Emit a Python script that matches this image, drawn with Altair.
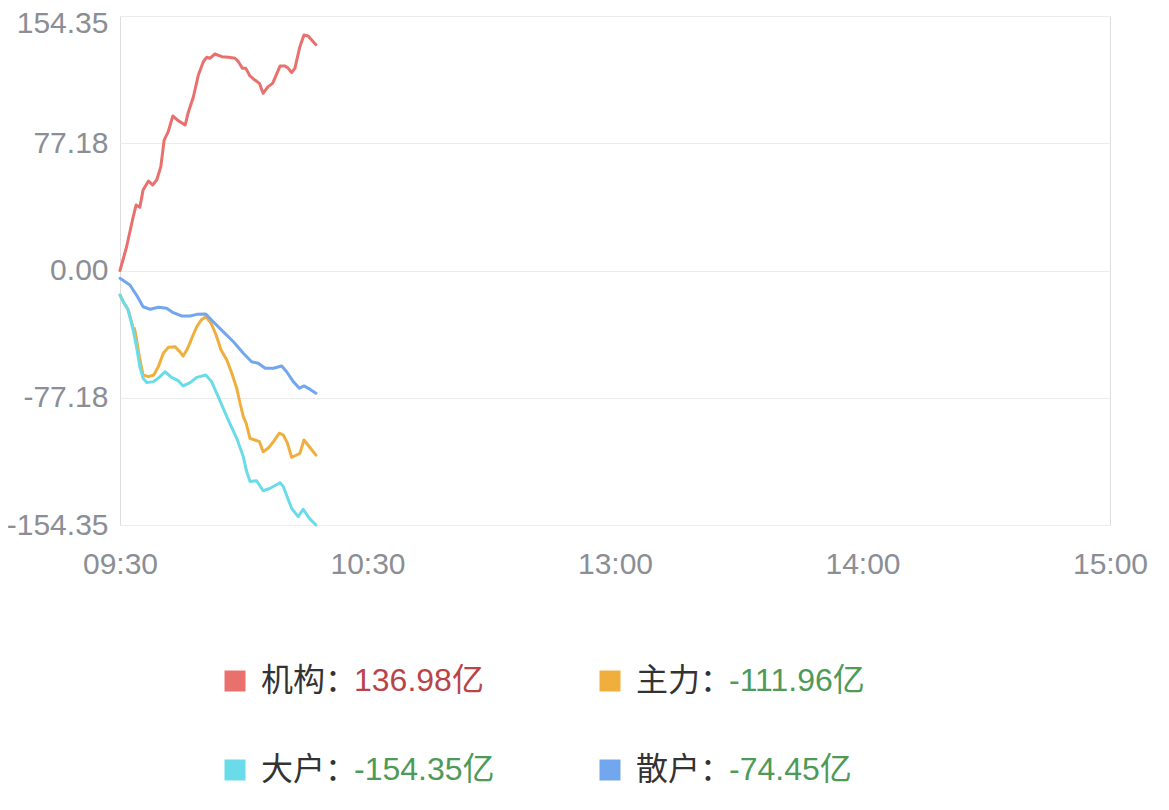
import altair as alt
import pandas as pd

# ---- data ----
names = ["机构", "主力", "大户", "散户"]
finals = [136.98, -111.96, -154.35, -74.45]
palette = ["#E8716D", "#F0AE3C", "#6ADBE8", "#72A6EF"]

tick_vals = [0, 60, 120, 180, 240]
tick_labels = ["09:30", "10:30", "13:00", "14:00", "15:00"]
y_ticks = [-154.35, -77.18, 0, 77.18, 154.35]

red_t = [0, 1.6, 3.2, 3.9, 4.8, 5.6, 6.9, 7.9, 8.9, 9.9, 10.7, 11.7, 12.8, 14.1, 15.8, 16.6, 17.8, 19.0, 20.2, 21.0, 21.8, 23.0, 24.7, 26.3, 27.9, 28.7, 29.7, 30.5, 31.5, 32.7, 33.8, 34.7, 35.9, 37.0, 38.8, 40.0, 40.8, 41.6, 42.4, 43.6, 44.6, 45.6, 47.5]
red_v = [0, 14.4, 32.6, 39.7, 38.3, 48.8, 54.3, 51.9, 54.9, 63.0, 79.1, 84.2, 93.7, 90.9, 88.2, 96.3, 105.4, 118.6, 126.6, 129.3, 128.7, 131.3, 129.7, 129.3, 128.7, 126.6, 122.6, 122.6, 118.0, 115.5, 113.5, 107.5, 111.5, 113.5, 124.0, 124.0, 122.6, 120.0, 122.6, 135.7, 142.8, 142.2, 136.98]

orange_t = [0, 0.8, 2.0, 3.2, 3.5, 3.9, 4.7, 5.6, 6.9, 8.2, 9.3, 10.5, 11.7, 13.3, 14.5, 15.3, 16.3, 17.4, 18.6, 19.7, 20.8, 22.1, 23.3, 24.5, 25.9, 27.1, 28.3, 29.1, 29.9, 30.6, 31.5, 32.7, 33.8, 34.7, 35.9, 37.2, 38.6, 39.6, 40.6, 41.6, 42.8, 43.6, 44.6, 45.9, 47.5]
orange_v = [-14.9, -18.9, -24.0, -35.0, -35.1, -40.1, -52.3, -63.4, -64.4, -63.4, -58.3, -50.2, -46.6, -46.2, -49.2, -51.9, -47.8, -41.1, -34.1, -30.0, -28.0, -32.0, -39.1, -48.2, -54.3, -62.3, -71.4, -80.5, -88.7, -92.7, -101.8, -102.8, -103.8, -109.9, -107.8, -103.8, -98.7, -99.8, -104.8, -113.3, -111.9, -110.9, -102.8, -106.9, -111.96]

cyan_t = [0, 0.8, 2.0, 3.2, 4.0, 4.8, 5.6, 6.5, 8.1, 9.7, 10.9, 12.5, 14.1, 15.3, 17.0, 18.6, 20.8, 22.2, 23.8, 25.9, 28.3, 29.9, 30.6, 31.5, 33.1, 34.7, 36.4, 38.8, 39.6, 41.6, 43.2, 44.4, 45.9, 47.5]
cyan_v = [-14.9, -18.9, -24.0, -36.1, -46.2, -58.3, -65.4, -68.0, -67.4, -64.4, -61.4, -64.8, -66.8, -70.0, -68.0, -64.8, -63.4, -67.4, -76.5, -88.7, -101.8, -112.9, -121.0, -127.9, -127.5, -133.6, -132.1, -128.7, -131.1, -144.2, -149.3, -144.8, -150.3, -154.35]

blue_t = [0, 2.4, 4.0, 5.6, 7.3, 9.3, 11.3, 12.9, 15.0, 17.0, 18.6, 20.8, 22.6, 25.0, 27.5, 29.9, 31.9, 33.5, 35.2, 37.2, 39.2, 40.4, 42.0, 43.5, 44.6, 46.1, 47.5]
blue_v = [-4.7, -8.8, -14.9, -22.0, -23.5, -22.3, -22.9, -25.6, -27.6, -27.6, -26.6, -26.4, -31.1, -37.1, -43.2, -50.2, -55.3, -56.3, -59.3, -59.3, -57.9, -61.4, -67.4, -71.4, -70.0, -72.1, -74.45]

series_t = [red_t, orange_t, cyan_t, blue_t]
series_v = [red_v, orange_v, cyan_v, blue_v]

# ---- styles ----
NUM_FONT = "Liberation Sans, Noto Sans CJK SC"
AXIS_COLOR = "#8b8e95"

label_expr = " : ".join(
    f"datum.value == {v} ? '{l}'" for v, l in zip(tick_vals, tick_labels)
) + " : ''"

x_enc = alt.X(
    "t:Q",
    scale=alt.Scale(domain=[0, 240], nice=False, zero=False),
    axis=alt.Axis(values=tick_vals, labelExpr=label_expr, grid=False, domain=False,
                  ticks=False, title=None, labelFlush=False, labelPadding=24,
                  labelFontSize=30, labelColor=AXIS_COLOR, labelFont=NUM_FONT),
)
y_enc = alt.Y(
    "v:Q",
    scale=alt.Scale(domain=[-154.35, 154.35], nice=False, zero=False),
    axis=alt.Axis(values=y_ticks,
                  labelExpr="replace(format(datum.value, '.2f'), '\u2212', '-')",
                  grid=True, gridColor="#ececec",
                  domain=False, ticks=False, title=None, labelPadding=12,
                  labelFontSize=30, labelColor=AXIS_COLOR, labelFont=NUM_FONT,
                  labelFlush=False,
                  labelOffset=alt.ExprRef(expr="datum.value > 150 ? 7 : 0")),
)
color_enc = alt.Color("name:N", scale=alt.Scale(domain=names, range=palette), legend=None)

line_layers = []
for n, ts, vs in zip(names, series_t, series_v):
    df = pd.DataFrame({"t": ts, "v": vs, "name": n})
    line_layers.append(
        alt.Chart(df).mark_line(strokeWidth=3, strokeCap="round", strokeJoin="round")
        .encode(x=x_enc, y=y_enc, color=color_enc)
    )
lines = alt.layer(*line_layers)

# ---- custom legend ----
leg = pd.DataFrame({
    "name": names,
    "label": [n + "：" for n in names],
    "value": finals,
    "vtext": [f"{v:.2f}亿" for v in finals],
    "col": [i % 2 for i in range(len(names))],
    "row": [i // 2 for i in range(len(names))],
})
lx = alt.X("col:Q", scale=alt.Scale(domain=[0, 1], range=[115, 490]), axis=None)
ly = alt.Y("row:Q", scale=alt.Scale(domain=[0, 1], range=[665, 754]), axis=None)
leg_base = alt.Chart(leg)
squares = leg_base.mark_square(size=441, opacity=1, filled=True).encode(
    x=lx, y=ly, color=color_enc)
name_text = leg_base.mark_text(align="left", baseline="middle", dx=26, fontSize=32,
                               font="Noto Sans CJK SC", color="#333333").encode(
    x=lx, y=ly, text="label:N")
val_text = leg_base.mark_text(align="left", baseline="middle", dx=119, fontSize=32,
                              font=NUM_FONT).encode(
    x=lx, y=ly, text="vtext:N",
    color=alt.condition(alt.datum.value > 0, alt.value("#b8444a"), alt.value("#4e9a58")))
legend_layer = alt.layer(squares, name_text, val_text)

chart = (
    alt.layer(lines, legend_layer)
    .resolve_scale(x="independent", y="independent")
    .properties(
        width=990, height=509,
        autosize=alt.AutoSizeParams(type="none"),
        padding={"left": 112, "top": 8, "right": 40, "bottom": 270},
    )
    .configure_view(stroke="#e6e6e6", strokeWidth=1)
    .configure(background="white")
)

chart.save("out.html", embed_options={"renderer": "svg", "actions": False})
